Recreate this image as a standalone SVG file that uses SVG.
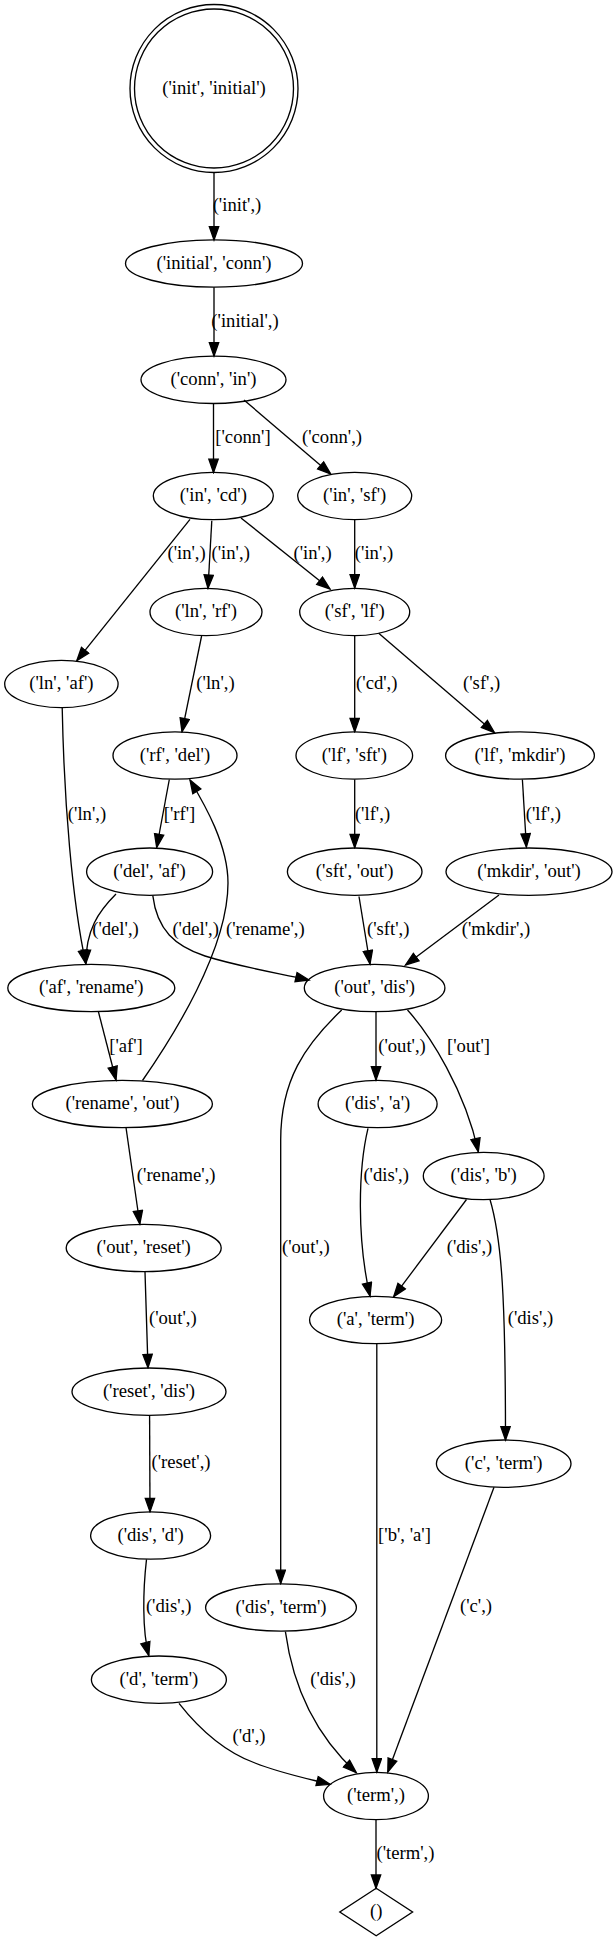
<svg xmlns="http://www.w3.org/2000/svg" width="613" height="1941" viewBox="0 0 613 1941">
<style>
.n ellipse,.n circle,.n polygon{fill:none;stroke:#000;stroke-width:1.33}
text{font-family:"Liberation Serif","Times New Roman",serif;font-size:18.67px;fill:#000}
.n text{text-anchor:middle}
.e path{fill:none;stroke:#000;stroke-width:1.33;marker-end:url(#arr)}
.e text{text-anchor:middle}
</style>
<defs>
<marker id="arr" markerUnits="userSpaceOnUse" markerWidth="16" markerHeight="12" viewBox="-1 -1 16 12" refX="13.3" refY="4.67" orient="auto"><path d="M0,0 L13.3,4.67 L0,9.33 z" fill="#000" stroke="#000" stroke-width="1.33"/></marker>
</defs>
<rect x="0" y="0" width="613" height="1941" fill="#fff"/>
<g id="connectors" class="e">
<path d="M214,172.5 L214,240"/><text x="237" y="211">('init',)</text>
<path d="M214,287.2 L214,356"/><text x="245" y="326.7">('initial',)</text>
<path d="M213.5,403.5 L213.5,472.5"/><text x="243" y="442.7">['conn']</text>
<path d="M244,400 L330.7,474"/><text x="332" y="442.7">('conn',)</text>
<path d="M190,519.3 L76.8,660.7"/><text x="186.6" y="559">('in',)</text>
<path d="M211.8,520.7 L208,588.3"/><text x="230.7" y="559">('in',)</text>
<path d="M241,518 L330,589"/><text x="312.6" y="559">('in',)</text>
<path d="M354.7,519.5 L354.7,588"/><text x="374" y="559">('in',)</text>
<path d="M201.6,636 L182,731.7"/><text x="215.5" y="689">('ln',)</text>
<path d="M354.7,636 L354.7,731.7"/><text x="376.8" y="689">('cd',)</text>
<path d="M378.7,633.3 L494.5,732.7"/><text x="481.7" y="689">('sf',)</text>
<path d="M62.2,707.6 C64,800 72,900 85.8,963.5"/><text x="87" y="820">('ln',)</text>
<path d="M169.3,779.5 L156.7,847.5"/><text x="179.5" y="820">['rf']</text>
<path d="M142.5,1080.5 C172,1038 228,950 228,883 C228,845 205,805 190,780"/><text x="265.3" y="935">('rename',)</text>
<path d="M354.7,779.5 L354.7,847.7"/><text x="372.5" y="820">('lf',)</text>
<path d="M522.4,779.5 L526.4,847"/><text x="543.4" y="820">('lf',)</text>
<path d="M116,894 C98,912 86,930 85.8,963.5"/><text x="115.5" y="935">('del',)</text>
<path d="M152.8,895.7 C157,930 175,946 205,956 C240,967 278,973 309,980"/><text x="195.7" y="935">('del',)</text>
<path d="M98.4,1011.7 L116,1080"/><text x="126" y="1051.7">['af']</text>
<path d="M359,896.5 L370,964"/><text x="388.2" y="935">('sft',)</text>
<path d="M499,895 L405.5,965"/><text x="496" y="935">('mkdir',)</text>
<path d="M376,1012 L376,1080"/><text x="402" y="1051.7">('out',)</text>
<path d="M407.5,1010 C430,1035 465,1090 478.3,1151.7"/><text x="468.5" y="1051.7">['out']</text>
<path d="M341.7,1010 C305,1045 280.7,1080 280.7,1140 L280.7,1583.5"/><text x="305.8" y="1252.7">('out',)</text>
<path d="M126,1127.5 L139.8,1224"/><text x="176.2" y="1181">('rename',)</text>
<path d="M368,1128.3 C358,1170 357,1240 370,1296"/><text x="386.2" y="1181">('dis',)</text>
<path d="M145,1271.8 L148,1367.7"/><text x="172.8" y="1324.3">('out',)</text>
<path d="M466.5,1199.5 L393.7,1296.7"/><text x="469.5" y="1252.7">('dis',)</text>
<path d="M490,1199.5 C502,1240 505.5,1300 505.5,1440"/><text x="530.5" y="1324.3">('dis',)</text>
<path d="M149.6,1415.8 L150,1511.7"/><text x="181" y="1468.3">('reset',)</text>
<path d="M376.8,1344 L376.8,1772"/><text x="404.5" y="1541">['b', 'a']</text>
<path d="M494,1487.3 L387.8,1772"/><text x="476" y="1612.3">('c',)</text>
<path d="M146.5,1559.3 C143,1590 142,1630 148.8,1655.5"/><text x="168.7" y="1612.3">('dis',)</text>
<path d="M285.4,1631.7 C292,1680 310,1730 356.3,1772.7"/><text x="333" y="1685">('dis',)</text>
<path d="M179,1703.3 C200,1730 225,1752 255,1763 C280,1773 305,1778 330,1784.3"/><text x="249" y="1742.3">('d',)</text>
<path d="M376,1820 L376,1888.3"/><text x="405.5" y="1859">('term',)</text>
</g>
<g id="n_init_initial" class="n"><circle cx="214" cy="88.5" r="84"/><circle cx="214" cy="88.5" r="79.5"/><text x="214" y="93.5">('init', 'initial')</text></g>
<g id="n_initial_conn" class="n"><ellipse cx="214" cy="263.5" rx="88.5" ry="23.7"/><text x="214" y="268.5">('initial', 'conn')</text></g>
<g id="n_conn_in" class="n"><ellipse cx="213.5" cy="379.8" rx="72.5" ry="23.7"/><text x="213.5" y="384.8">('conn', 'in')</text></g>
<g id="n_in_cd" class="n"><ellipse cx="213.3" cy="496" rx="60" ry="23.7"/><text x="213.3" y="501">('in', 'cd')</text></g>
<g id="n_in_sf" class="n"><ellipse cx="354.7" cy="496" rx="57" ry="23.7"/><text x="354.7" y="501">('in', 'sf')</text></g>
<g id="n_ln_rf" class="n"><ellipse cx="206" cy="612" rx="56" ry="23.7"/><text x="206" y="617">('ln', 'rf')</text></g>
<g id="n_sf_lf" class="n"><ellipse cx="354.7" cy="612" rx="55" ry="23.7"/><text x="354.7" y="617">('sf', 'lf')</text></g>
<g id="n_ln_af" class="n"><ellipse cx="61.4" cy="684" rx="56.7" ry="23.7"/><text x="61.4" y="689">('ln', 'af')</text></g>
<g id="n_rf_del" class="n"><ellipse cx="175" cy="755.5" rx="62" ry="23.7"/><text x="175" y="760.5">('rf', 'del')</text></g>
<g id="n_lf_sft" class="n"><ellipse cx="354.3" cy="755.5" rx="58.3" ry="23.7"/><text x="354.3" y="760.5">('lf', 'sft')</text></g>
<g id="n_lf_mkdir" class="n"><ellipse cx="520" cy="755.5" rx="74.4" ry="23.7"/><text x="520" y="760.5">('lf', 'mkdir')</text></g>
<g id="n_del_af" class="n"><ellipse cx="149.6" cy="871.7" rx="63" ry="23.7"/><text x="149.6" y="876.7">('del', 'af')</text></g>
<g id="n_sft_out" class="n"><ellipse cx="354.7" cy="871.7" rx="67.3" ry="23.7"/><text x="354.7" y="876.7">('sft', 'out')</text></g>
<g id="n_mkdir_out" class="n"><ellipse cx="529" cy="871.7" rx="83" ry="23.7"/><text x="529" y="876.7">('mkdir', 'out')</text></g>
<g id="n_af_rename" class="n"><ellipse cx="91.3" cy="988" rx="83.5" ry="23.7"/><text x="91.3" y="993">('af', 'rename')</text></g>
<g id="n_out_dis" class="n"><ellipse cx="374.6" cy="988" rx="70.3" ry="23.7"/><text x="374.6" y="993">('out', 'dis')</text></g>
<g id="n_rename_out" class="n"><ellipse cx="122.4" cy="1104" rx="90" ry="23.7"/><text x="122.4" y="1109">('rename', 'out')</text></g>
<g id="n_dis_a" class="n"><ellipse cx="377.6" cy="1104" rx="59.5" ry="23.7"/><text x="377.6" y="1109">('dis', 'a')</text></g>
<g id="n_dis_b" class="n"><ellipse cx="483.7" cy="1176" rx="60.4" ry="23.7"/><text x="483.7" y="1181">('dis', 'b')</text></g>
<g id="n_out_reset" class="n"><ellipse cx="143.7" cy="1248" rx="77.5" ry="23.7"/><text x="143.7" y="1253">('out', 'reset')</text></g>
<g id="n_a_term" class="n"><ellipse cx="375.6" cy="1320" rx="66" ry="23.7"/><text x="375.6" y="1325">('a', 'term')</text></g>
<g id="n_reset_dis" class="n"><ellipse cx="149" cy="1391.7" rx="77" ry="23.7"/><text x="149" y="1396.7">('reset', 'dis')</text></g>
<g id="n_c_term" class="n"><ellipse cx="503.7" cy="1463.7" rx="67.3" ry="23.7"/><text x="503.7" y="1468.7">('c', 'term')</text></g>
<g id="n_dis_d" class="n"><ellipse cx="150.6" cy="1535.5" rx="60" ry="23.7"/><text x="150.6" y="1540.5">('dis', 'd')</text></g>
<g id="n_dis_term" class="n"><ellipse cx="281" cy="1607.5" rx="75.4" ry="23.7"/><text x="281" y="1612.5">('dis', 'term')</text></g>
<g id="n_d_term" class="n"><ellipse cx="158.9" cy="1679.7" rx="67.5" ry="23.7"/><text x="158.9" y="1684.7">('d', 'term')</text></g>
<g id="n_term" class="n"><ellipse cx="376" cy="1796" rx="52.4" ry="23.7"/><text x="376" y="1801">('term',)</text></g>
<g id="n_empty" class="n"><polygon points="376.2,1888.3 412.6,1912 376.2,1935.8 339.8,1912"/><text x="376.2" y="1917">()</text></g>
</svg>
